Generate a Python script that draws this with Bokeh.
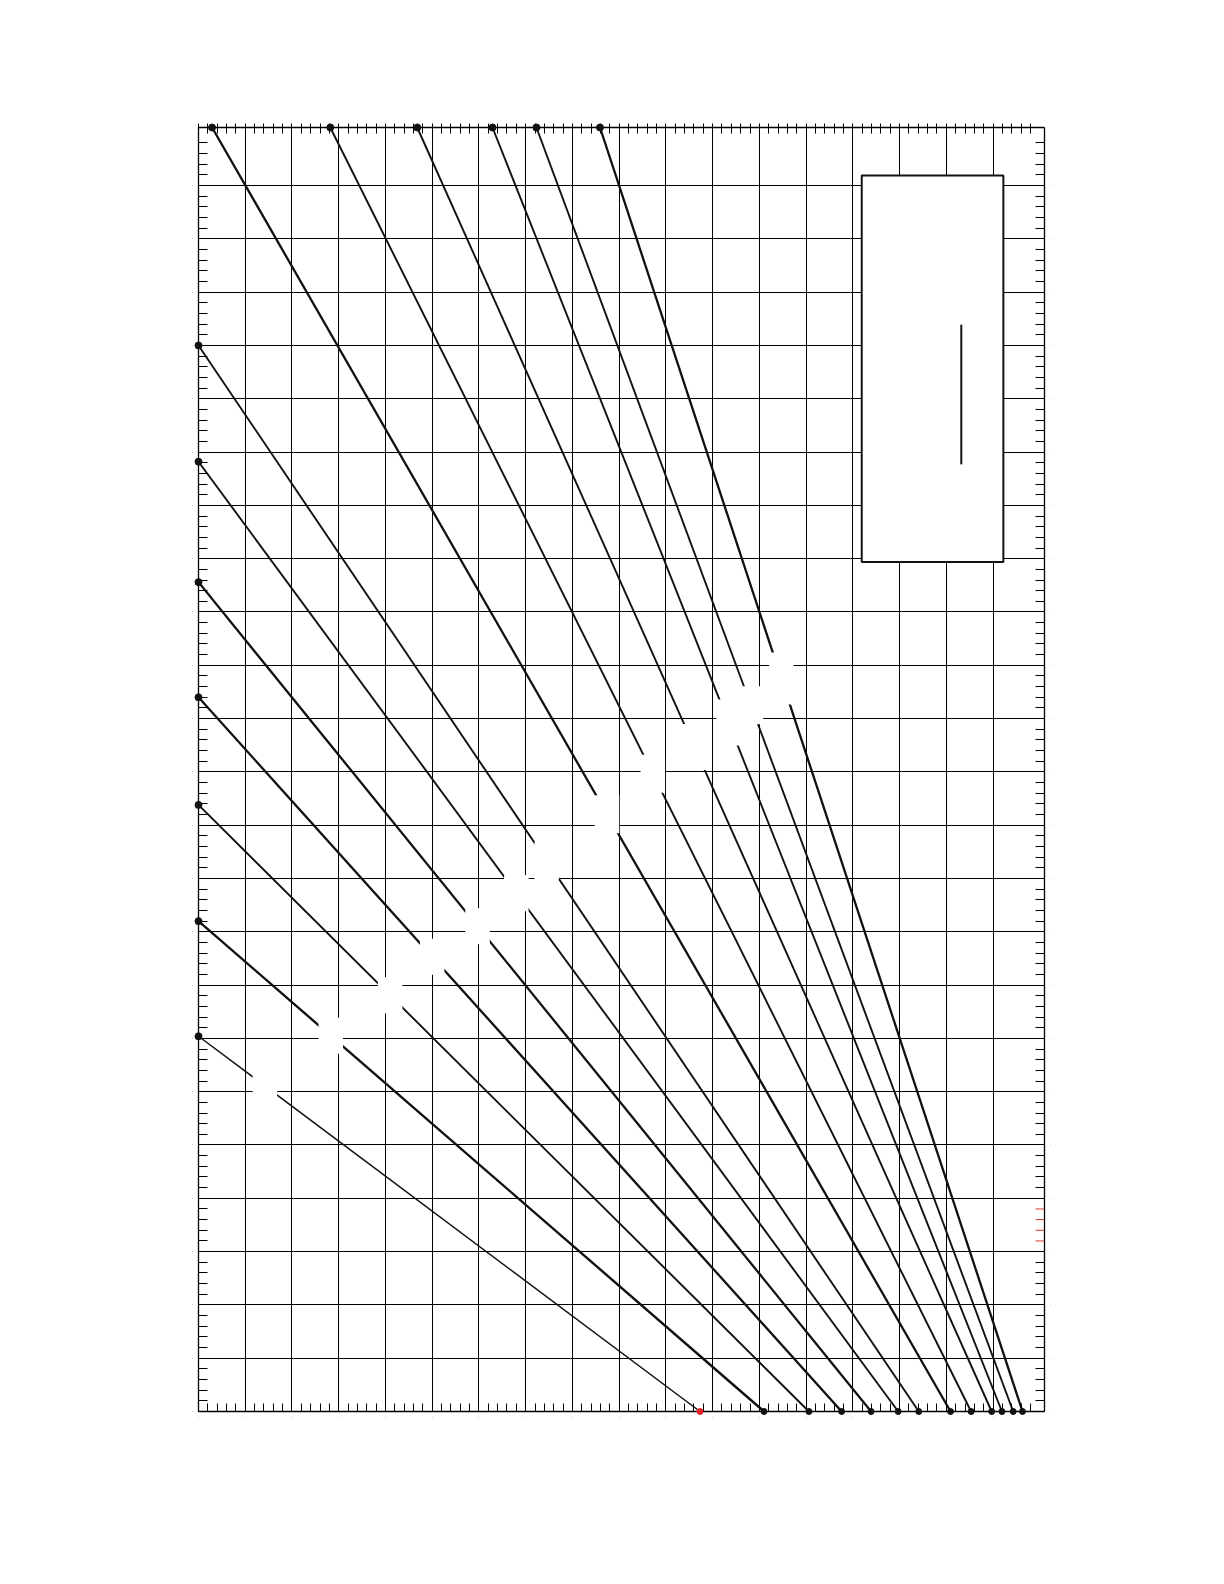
import numpy as np
from bokeh.plotting import figure
from bokeh.models import (Range1d, FixedTicker, LinearAxis, CustomJSTickFormatter,
                          BoxAnnotation, Arrow, ColumnDataSource)
from bokeh.embed import file_html
from bokeh.resources import INLINE

# ---------------- data ----------------
x_extent = 18.1            # right edge of the chart box (data units)
y_extent = 24.09           # top edge of the chart box (data units)
x_major = list(range(0, 18))
y_major = list(range(0, 24))

# lines starting on the left edge (x = 0), bottom to top
left_start_y = [7.04, 9.20, 11.38, 13.40, 15.56, 17.82, 20.00]
# lines starting on the top edge (y = top), left to right
top_start_x = [0.29, 2.82, 4.68, 6.29, 7.23, 8.59]
# end points on the bottom edge (y = 0), one per line, same order
bottom_end_x = [10.73, 12.10, 13.06, 13.76, 14.39, 14.97, 15.41,
                16.09, 16.53, 16.97, 17.19, 17.43, 17.63]
# x position of the (blanked) label on every line
label_x = [1.42, 2.83, 4.10, 5.00, 5.97, 6.80, 7.45,
           8.74, 9.72, 10.61, 11.34, 11.82, 12.47]
# right-axis minor ticks that are drawn in red
red_tick_y = [3.2, 3.4, 3.6, 3.8]
# legend frame and its inner stroke
legend_box = dict(left=14.19, right=17.22, top=23.19, bottom=15.94)
legend_stroke = dict(x=16.32, y_top=20.39, y_bottom=17.77)

# ---------------- styles ----------------
line_widths = [1.5, 2.4, 1.9, 2.3, 2.3, 1.9, 1.9, 2.3, 1.9, 1.9, 1.9, 1.9, 2.3]
label_heights = [36, 36, 36, 36, 36, 36, 38, 38, 38, 46, 46, 38, 52]
end_colors = ["#e8262a"] + ["#111111"] * 12

BOX_W, BOX_H = 846, 1284          # visible chart box in pixels
PAD = 6                           # extra frame room so edge dots are not clipped
PX_X = BOX_W / x_extent
PX_Y = BOX_H / y_extent
padx = PAD / PX_X
pady = PAD / PX_Y

x0 = [0.0] * len(left_start_y) + top_start_x
y0 = left_start_y + [y_extent] * len(top_start_x)
x1 = bottom_end_x
y1 = [0.0] * len(bottom_end_x)
lab_y = [ys + (lx - xs) / (xe - xs) * (ye - ys)
         for xs, ys, xe, ye, lx in zip(x0, y0, x1, y1, label_x)]

lines = ColumnDataSource(dict(x0=x0, y0=y0, x1=x1, y1=y1, lw=line_widths))
labels = ColumnDataSource(dict(x=label_x, y=lab_y, h=label_heights))

p = figure(frame_width=BOX_W + 2 * PAD, frame_height=BOX_H + 2 * PAD,
           x_range=Range1d(-padx, x_extent + padx),
           y_range=Range1d(-pady, y_extent + pady),
           output_backend="svg", toolbar_location=None,
           x_axis_location=None, y_axis_location=None,
           min_border_left=198 - PAD, min_border_top=127 - PAD,
           min_border_right=140, min_border_bottom=110)
p.background_fill_color = "white"
p.border_fill_color = "white"
p.outline_line_color = None

x_minor = [k + 0.2 * j for k in range(18) for j in range(1, 5)]
y_minor = [k + 0.2 * j for k in range(24) for j in range(1, 5)]
y_minor_right = [t for t in y_minor if all(abs(t - r) > 1e-6 for r in red_tick_y)]

xt = FixedTicker(ticks=x_major, minor_ticks=x_minor)
yt = FixedTicker(ticks=y_major, minor_ticks=y_minor)
yt_r = FixedTicker(ticks=y_major, minor_ticks=y_minor_right)


def make_axis(ticker, tin, tout, loc, bounds):
    ax = LinearAxis(ticker=ticker, fixed_location=loc, bounds=bounds)
    ax.formatter = CustomJSTickFormatter(code="return ''")
    ax.major_label_text_font_size = "0px"
    ax.axis_line_color = "black"
    ax.axis_line_width = 1.3
    ax.major_tick_in = tin
    ax.major_tick_out = tout
    ax.minor_tick_in = tin
    ax.minor_tick_out = tout
    ax.major_tick_line_color = "black"
    ax.minor_tick_line_color = "black"
    ax.major_tick_line_width = 1
    ax.minor_tick_line_width = 1
    return ax


p.add_layout(make_axis(xt, 8, 0, 0, (0, x_extent)), "below")
p.add_layout(make_axis(xt, 6, 4, y_extent, (0, x_extent)), "above")
p.add_layout(make_axis(yt, 9, 0, 0, (0, y_extent)), "left")
p.add_layout(make_axis(yt_r, 9, 0, x_extent, (0, y_extent)), "right")

p.xgrid.ticker = xt
p.ygrid.ticker = yt
for g in (p.xgrid[0], p.ygrid[0]):
    g.grid_line_color = "black"
    g.grid_line_width = 1

# keep the grid inside the chart box: blank the padding strips (under the axes)
for kw in (dict(right=0), dict(left=x_extent), dict(top=0), dict(bottom=y_extent)):
    p.add_layout(BoxAnnotation(fill_color="white", fill_alpha=1.0, line_color=None,
                               level="underlay", **kw))

# the curves
p.segment(x0="x0", y0="y0", x1="x1", y1="y1", line_width="lw",
          line_color="#111111", source=lines)
# white boxes of the blanked labels
p.rect(x="x", y="y", width=24.5, height="h", width_units="screen",
       height_units="screen", fill_color="white", line_color=None,
       source=labels)

# red minor ticks on the right edge
tick_len = 9 / PX_X
p.segment(x0=[x_extent] * len(red_tick_y), y0=red_tick_y,
          x1=[x_extent - tick_len] * len(red_tick_y), y1=red_tick_y,
          line_color="#d9343a", line_width=1)

# legend frame (text blanked)
p.add_layout(BoxAnnotation(left=legend_box["left"], right=legend_box["right"],
                           top=legend_box["top"], bottom=legend_box["bottom"],
                           fill_color="white", fill_alpha=1.0,
                           line_color="#111111", line_width=2, line_alpha=1.0))
p.add_layout(Arrow(x_start=legend_stroke["x"], y_start=legend_stroke["y_top"],
                   x_end=legend_stroke["x"], y_end=legend_stroke["y_bottom"],
                   start=None, end=None, line_color="#111111", line_width=2))

# end-point dots, drawn above the axis lines
p.scatter(x=x0, y=y0, size=7, color="#111111", level="overlay")
p.scatter(x=x1, y=y1, size=6, color=end_colors, level="overlay")

open("out.html", "w").write(file_html(p, INLINE))
